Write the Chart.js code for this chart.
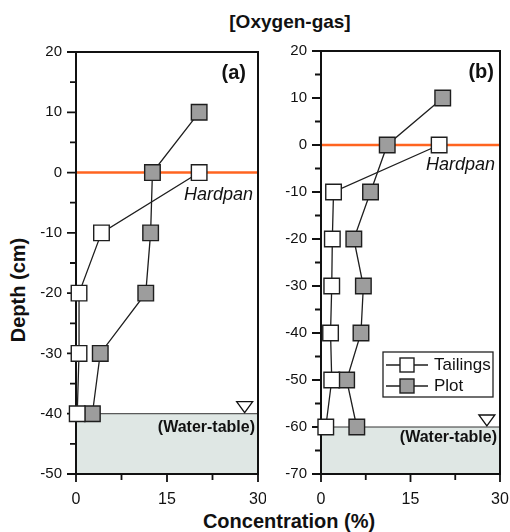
<!DOCTYPE html>
<html>
<head>
<meta charset="utf-8">
<script src="https://cdn.jsdelivr.net/npm/chart.js@4.4.1/dist/chart.umd.min.js"></script>
<style>
    body { margin: 0; background: #fff; }
    #wrap { position: relative; width: 510px; height: 532px; overflow: hidden; font-family: "Liberation Sans", Arial, sans-serif; color: #111; }
    .box { position: absolute; top: 0; }
    .txt { position: absolute; font-weight: bold; font-size: 20px; white-space: nowrap; transform: translate(-50%, -50%); }
</style>
</head>
<body>
<div id="wrap">
    <div class="txt" style="left:290px; top:22px; font-size:19px;">[Oxygen-gas]</div>
    <div class="txt" style="left:18px; top:290px; transform: translate(-50%, -50%) rotate(-90deg);">Depth (cm)</div>
    <div class="txt" style="left:289px; top:521px;">Concentration (%)</div>
    <div class="box" style="left:0px;"><canvas id="chartA" width="266" height="532"></canvas></div>
    <div class="box" style="left:266px;"><canvas id="chartB" width="244" height="532"></canvas></div>
</div>
<script>
// panel (a)
const depthTailA = [0, -10, -20, -30, -40];
const tailA = [20.3, 4.2, 0.5, 0.5, 0.2];
const depthPlotA = [10, 0, -10, -20, -30, -40];
const plotA = [20.3, 12.6, 12.3, 11.5, 4.0, 2.7];

// panel (b)
const depthTailB = [0, -10, -20, -30, -40, -50, -60];
const tailB = [19.8, 2.1, 1.9, 1.8, 1.6, 1.8, 0.8];
const depthPlotB = [10, 0, -10, -20, -30, -40, -50, -60];
const plotB = [20.4, 11.1, 8.3, 5.5, 7.1, 6.7, 4.3, 6.0];

const xTicks = [0, 15, 30];
const seriesNames = ['Tailings', 'Plot'];
const hardpanDepth = 0;
const waterTableA = -40;
const waterTableB = -60;
const waterTableMarkX = 27.8;

const FONT = '"Liberation Sans", Arial, sans-serif';
const TAIL_FILL = '#ffffff';
const PLOT_FILL = '#9d9d9d';
const EDGE = '#1e1e1e';

function toPoints(xs, ys) {
    return xs.map((v, i) => ({ x: v, y: ys[i] }));
}

function makeSet(label, xs, ys, fill) {
    return {
        label: label,
        data: toPoints(xs, ys),
        showLine: true,
        clip: false,
        borderColor: EDGE,
        borderWidth: 1.3,
        pointStyle: 'rect',
        pointRadius: 11,
        pointBackgroundColor: fill,
        pointBorderColor: EDGE,
        pointBorderWidth: 1.4
    };
}

// frame, tick marks, hardpan, water table, labels, legend
const decor = {
    id: 'decor',
    beforeDatasetsDraw(chart, args, o) {
        const { ctx, chartArea: a, scales } = chart;
        const yw = scales.y.getPixelForValue(o.waterTable);
        ctx.save();
        ctx.fillStyle = '#dfe7e4';
        ctx.fillRect(a.left, yw, a.right - a.left, a.bottom - yw);
        ctx.strokeStyle = '#333';
        ctx.lineWidth = 1;
        ctx.beginPath();
        ctx.moveTo(a.left, yw);
        ctx.lineTo(a.right, yw);
        ctx.stroke();
        const yh = scales.y.getPixelForValue(hardpanDepth);
        ctx.strokeStyle = '#ff6420';
        ctx.lineWidth = 2.5;
        ctx.beginPath();
        ctx.moveTo(a.left, yh);
        ctx.lineTo(a.right, yh);
        ctx.stroke();

        // frame
        ctx.strokeStyle = '#111';
        ctx.lineWidth = 2;
        ctx.strokeRect(a.left, a.top, a.right - a.left, a.bottom - a.top);
        // ticks
        ctx.lineWidth = 1.8;
        ctx.beginPath();
        scales.y.ticks.forEach(t => {
            const py = scales.y.getPixelForValue(t.value);
            const len = t.value % 10 === 0 ? 9 : 6;
            ctx.moveTo(a.left - len, py);
            ctx.lineTo(a.left + 1, py);
        });
        scales.x.ticks.forEach(t => {
            const px = scales.x.getPixelForValue(t.value);
            const len = t.value % 15 === 0 ? 8 : 6;
            ctx.moveTo(px, a.bottom - 1);
            ctx.lineTo(px, a.bottom + len);
        });
        ctx.stroke();
        ctx.restore();
    },
    afterDraw(chart, args, o) {
        const { ctx, chartArea: a, scales } = chart;
        ctx.save();
        // water table marker
        const yw = scales.y.getPixelForValue(o.waterTable);
        const xm = scales.x.getPixelForValue(waterTableMarkX);
        ctx.fillStyle = '#fff';
        ctx.strokeStyle = '#111';
        ctx.lineWidth = 1.3;
        ctx.beginPath();
        ctx.moveTo(xm - 8, yw - 12);
        ctx.lineTo(xm + 8, yw - 12);
        ctx.lineTo(xm, yw - 1);
        ctx.closePath();
        ctx.fill();
        ctx.stroke();

        ctx.fillStyle = '#111';
        ctx.textAlign = 'right';
        ctx.textBaseline = 'middle';
        ctx.font = 'bold 16px ' + FONT;
        ctx.fillText('(Water-table)', a.right - 3, yw + o.wtOffset);

        const yh = scales.y.getPixelForValue(hardpanDepth);
        ctx.font = 'italic 18px ' + FONT;
        ctx.fillText('Hardpan', a.right - 5, yh + o.hpOffset);

        ctx.font = 'bold 20px ' + FONT;
        ctx.fillText(o.panel, a.right - o.panelRight, a.top + 21);

        if (o.legend) {
            const lx = a.left + 62, ly = a.top + 301, lw = 110, lh = 45;
            ctx.fillStyle = '#fff';
            ctx.fillRect(lx, ly, lw, lh);
            ctx.strokeStyle = '#222';
            ctx.lineWidth = 1.3;
            ctx.strokeRect(lx, ly, lw, lh);
            chart.data.datasets.forEach((ds, i) => {
                const cy = ly + 13 + i * 21;
                ctx.strokeStyle = EDGE;
                ctx.lineWidth = 1.3;
                ctx.beginPath();
                ctx.moveTo(lx + 3, cy);
                ctx.lineTo(lx + 45, cy);
                ctx.stroke();
                ctx.fillStyle = ds.pointBackgroundColor;
                ctx.fillRect(lx + 17, cy - 7, 14, 14);
                ctx.lineWidth = 1.4;
                ctx.strokeRect(lx + 17, cy - 7, 14, 14);
                ctx.fillStyle = '#111';
                ctx.textAlign = 'left';
                ctx.font = '17px ' + FONT;
                ctx.fillText(ds.label, lx + 51, cy);
            });
        }
        ctx.restore();
    }
};

function makeChart(id, datasets, yMin, pad, opts) {
    return new Chart(document.getElementById(id), {
        type: 'scatter',
        data: { datasets: datasets },
        plugins: [decor],
        options: {
            responsive: false,
            animation: false,
            layout: { padding: pad, autoPadding: false },
            plugins: {
                legend: { display: false },
                tooltip: { enabled: false },
                decor: opts
            },
            scales: {
                x: {
                    type: 'linear',
                    min: 0,
                    max: 30,
                    afterFit: s => { s.height = 40; s.paddingLeft = 0; s.paddingRight = 0; },
                    grid: { display: false, drawTicks: false },
                    border: { display: false },
                    ticks: {
                        stepSize: 7.5,
                        padding: 16,
                        color: '#111',
                        font: { family: FONT, size: 16 },
                        callback: v => xTicks.includes(v) ? v : ''
                    }
                },
                y: {
                    type: 'linear',
                    min: yMin,
                    max: 20,
                    afterFit: s => { s.width = opts.axisWidth; s.paddingTop = 0; s.paddingBottom = 0; },
                    grid: { display: false, drawTicks: false },
                    border: { display: false },
                    ticks: {
                        stepSize: 5,
                        padding: 14,
                        color: '#111',
                        font: { family: FONT, size: 15 },
                        callback: v => v % 10 === 0 ? v : ''
                    }
                }
            }
        }
    });
}

makeChart('chartA', [
    makeSet(seriesNames[0], tailA, depthTailA, TAIL_FILL),
    makeSet(seriesNames[1], plotA, depthPlotA, PLOT_FILL)
], -50, { left: 0, top: 52, right: 8, bottom: 18 },
   { axisWidth: 76, waterTable: waterTableA, wtOffset: 14, hpOffset: 22, panel: '(a)', panelRight: 12, legend: false });

makeChart('chartB', [
    makeSet(seriesNames[0], tailB, depthTailB, TAIL_FILL),
    makeSet(seriesNames[1], plotB, depthPlotB, PLOT_FILL)
], -70, { left: 0, top: 51, right: 10, bottom: 18 },
   { axisWidth: 55, waterTable: waterTableB, wtOffset: 11, hpOffset: 20, panel: '(b)', panelRight: 6, legend: true });
</script>
</body>
</html>
